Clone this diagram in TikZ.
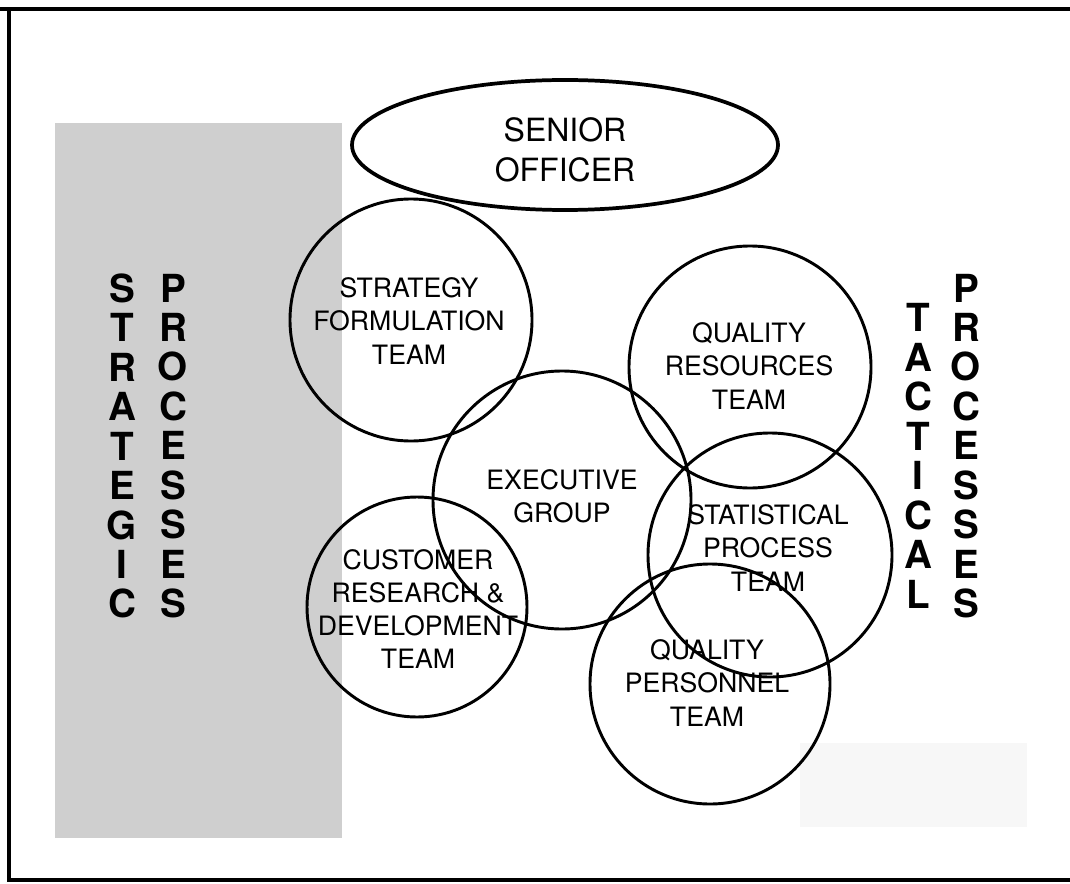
\documentclass[tikz,border=0pt]{standalone}
\usepackage{fontspec}
\setmainfont{TeX Gyre Heros}
\usetikzlibrary{shapes.geometric}
\begin{document}
\begin{tikzpicture}[x=0.75pt,y=-0.75pt,
  team/.style={circle,draw=black,line width=2.2pt,minimum size=#1*1.5pt,inner sep=0pt},
  lbl/.style={align=center,font=\fontsize{20}{24.8}\selectfont,inner sep=0pt},
  vword/.style={align=center,font=\fontsize{29}{29.6}\selectfont\bfseries,inner sep=0pt}]
\useasboundingbox (0,0) rectangle (1070,884);
% shaded strategic band
\fill[black!19] (55,123) rectangle (342,838);
\fill[black!3] (800,743) rectangle (1027,827);
% frame
\draw[line width=2.5pt] (0,9) -- (1070,9);
\draw[line width=3pt] (9,9) -- (9,880) -- (1070,880);
% senior officer
\node[ellipse,draw=black,line width=2.8pt,minimum width=426*0.75pt,minimum height=130*0.75pt,inner sep=0pt] (so) at (565,145) {};
\node[lbl,font=\fontsize{24}{30}\selectfont] (sot) at (565,150) {SENIOR\\OFFICER};
% team circles
\node[team=121] (sf) at (411,320) {};
\node[team=129] (eg) at (562,500) {};
\node[team=110] (cr) at (417,607) {};
\node[team=121] (qr) at (750,367) {};
\node[team=122] (sp) at (770,555) {};
\node[team=120] (qp) at (710,684) {};
% labels
\node[lbl] (sft) at (409,321) {STRATEGY\\FORMULATION\\TEAM};
\node[lbl] (egt) at (562,496) {EXECUTIVE\\GROUP};
\node[lbl] (crt) at (418,609) {CUSTOMER\\RESEARCH \&\\DEVELOPMENT\\TEAM};
\node[lbl] (qrt) at (749,366) {QUALITY\\RESOURCES\\TEAM};
\node[lbl] (spt) at (768,548) {STATISTICAL\\PROCESS\\TEAM};
\node[lbl] (qpt) at (707,683) {QUALITY\\PERSONNEL\\TEAM};
% vertical words
\node[vword] (strat) at (122,446) {S\\T\\R\\A\\T\\E\\G\\I\\C};
\node[vword] (procl) at (173,446) {P\\R\\O\\C\\E\\S\\S\\E\\S};
\node[vword] (tact) at (918,456) {T\\A\\C\\T\\I\\C\\A\\L};
\node[vword] (procr) at (966,446) {P\\R\\O\\C\\E\\S\\S\\E\\S};
\end{tikzpicture}
\end{document}
